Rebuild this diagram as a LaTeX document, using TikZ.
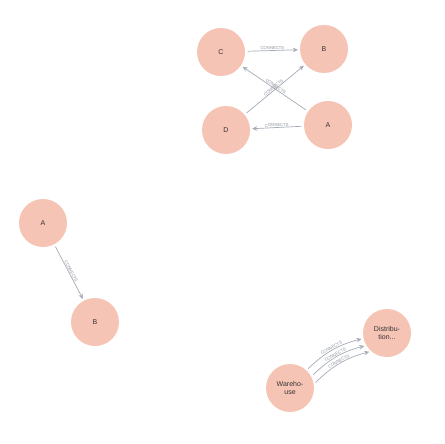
\documentclass[tikz,border=0pt]{standalone}
\usepackage{fontspec}
\setmainfont{Liberation Sans}
\usetikzlibrary{arrows.meta}
\definecolor{nodefill}{HTML}{F6C4B5}
\definecolor{edgegray}{HTML}{A5ABB6}
\definecolor{labelgray}{HTML}{8A8F99}

\begin{document}
\begin{tikzpicture}[x=1pt, y=1pt,
    every node/.style={circle, fill=nodefill, minimum size=48pt, inner sep=0pt, text=black!80, align=center, font=\fontsize{7}{8}\selectfont},
    rel/.style={draw=edgegray, line width=0.7pt, -{Stealth[length=5pt, width=4.5pt]}, shorten <=2.5pt, shorten >=2pt},
    lbl/.style={rectangle, fill=none, minimum size=0pt, inner sep=0.6pt, text=labelgray, font=\fontsize{4.2}{4.5}\selectfont, sloped, above, midway}]
    \useasboundingbox[fill=white] (0,0) rectangle (444,-444);
    % top group
    \node (c) at (221,-52) {C};
    \node (b) at (324,-49) {B};
    \node (d) at (226,-130) {D};
    \node (a) at (328,-125) {A};
    \draw[rel] (c) -- node[lbl] {CONNECTS} (b);
    \draw[rel] (a) -- node[lbl] {CONNECTS} (c);
    \draw[rel] (d) -- node[lbl] {CONNECTS} (b);
    \draw[rel] (a) -- node[lbl] {CONNECTS} (d);
    % left pair
    \node (a2) at (43,-223) {A};
    \node (b2) at (95,-322) {B};
    \draw[rel] (a2) -- node[lbl] {CONNECTS} (b2);
    % warehouse
    \node (wh) at (290,-388) {Wareho-\\use};
    \node (dist) at (387,-333) {Distribu-\\tion...};
    \draw[rel] (wh.47) to[bend left=15] node[lbl] {CONNECTS} (dist.193);
    \draw[rel] (wh.28) to[bend left=15] node[lbl] {CONNECTS} (dist.211);
    \draw[rel] (wh.9) to[bend left=15] node[lbl] {CONNECTS} (dist.229);
\end{tikzpicture}
\end{document}
